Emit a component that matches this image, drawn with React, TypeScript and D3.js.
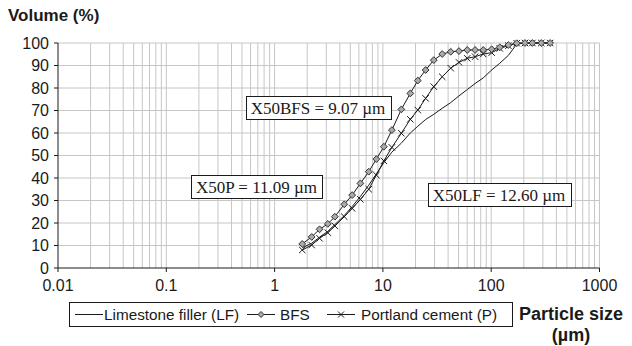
import React, { useEffect, useRef } from 'react';
import * as d3 from 'd3';

// particle sizes (µm), shared by all three curves
const particleSize = [1.8, 2.2, 2.6, 3.1, 3.6, 4.4, 5.2, 6.2, 7.4, 8.7, 10.2, 12.1, 14.8, 17.9, 21, 24.8, 29.5, 35.3, 42.3, 50.4, 60.1, 71, 84.5, 101, 120, 144, 172, 205, 240, 290, 350];

// cumulative volume (%)
const limestone = [9, 11, 13.7, 16.3, 19.3, 23.3, 27.3, 31.8, 36.8, 41.8, 46.8, 51.5, 55.5, 60, 63, 66, 68.3, 71, 73.5, 76.5, 79.3, 82, 84.5, 88, 91, 94.5, 99.5, 100, 100, 100, 100];
const bfs = [10.7, 13.8, 17.2, 19.6, 22.8, 28.3, 32.4, 37.6, 42.8, 48.4, 53.9, 61.3, 70.5, 77.6, 83.3, 88, 92.4, 95.1, 96.1, 96.4, 96.9, 96.9, 96.9, 97.2, 98.1, 99.1, 99.9, 100, 100, 100, 100];
const portland = [8, 10.2, 13.2, 15.7, 18.7, 22.8, 26.5, 30.5, 35, 41.3, 47.6, 53.6, 59.9, 66.1, 70.2, 75.4, 80.6, 85, 88.8, 91.4, 93.2, 93.9, 95.1, 95.7, 97.6, 98.8, 99.9, 100, 100, 100, 100];

const xTicks = [0.01, 0.1, 1, 10, 100, 1000];
const xTickLabels = ['0.01', '0.1', '1', '10', '100', '1000'];
const yTicks = [0, 10, 20, 30, 40, 50, 60, 70, 80, 90, 100];
const minorMultipliers = [2, 3, 4, 5, 6, 7, 8, 9];

const seriesNames = ['Limestone filler (LF)', 'BFS', 'Portland cement (P)'];
const annotationTexts = ['X50BFS = 9.07 µm', 'X50P = 11.09 µm', 'X50LF = 12.60 µm'];

const sans = 'Arial, "Liberation Sans", sans-serif';
const serif = '"Times New Roman", "Liberation Serif", serif';

const ParticleChart: React.FC = () => {
  const svgRef = useRef<SVGSVGElement | null>(null);

  useEffect(() => {
    if (!svgRef.current) return;
    const svg = d3.select(svgRef.current);
    svg.selectAll('*').remove();

    const left = 58, right = 599.5, top = 43, bottom = 268;
    const x = d3.scaleLog().domain([0.01, 1000]).range([left, right]);
    const y = d3.scaleLinear().domain([0, 100]).range([bottom, top]);

    const gridColor = '#c6c6c6';
    const ink = '#1a1a1a';

    // --- grid ---
    const grid = svg.append('g');
    const vLines: number[] = [];
    xTicks.slice(0, -1).forEach(d => minorMultipliers.forEach(m => vLines.push(d * m)));
    xTicks.slice(1).forEach(d => vLines.push(d));
    grid.selectAll('.v').data(vLines).enter().append('line')
      .attr('x1', d => x(d)).attr('x2', d => x(d))
      .attr('y1', top).attr('y2', bottom)
      .attr('stroke', gridColor).attr('stroke-width', 1);
    grid.selectAll('.h').data(yTicks.slice(1)).enter().append('line')
      .attr('x1', left).attr('x2', right)
      .attr('y1', d => y(d)).attr('y2', d => y(d))
      .attr('stroke', gridColor).attr('stroke-width', 1);

    // --- axes ---
    svg.append('line').attr('x1', left).attr('x2', left).attr('y1', top).attr('y2', bottom)
      .attr('stroke', ink).attr('stroke-width', 1);
    svg.append('line').attr('x1', left).attr('x2', right).attr('y1', bottom).attr('y2', bottom)
      .attr('stroke', ink).attr('stroke-width', 1);

    svg.selectAll('.yt').data(yTicks).enter().append('line')
      .attr('x1', left - 4).attr('x2', left).attr('y1', d => y(d)).attr('y2', d => y(d))
      .attr('stroke', ink);
    svg.selectAll('.yl').data(yTicks).enter().append('text')
      .attr('x', left - 9).attr('y', d => y(d) + 5.5).attr('text-anchor', 'end')
      .attr('font-family', sans).attr('font-size', 16).attr('fill', ink).text(d => d);

    svg.selectAll('.xt').data(xTicks).enter().append('line')
      .attr('x1', d => x(d)).attr('x2', d => x(d)).attr('y1', bottom).attr('y2', bottom + 4)
      .attr('stroke', ink);
    svg.selectAll('.xl').data(xTicks).enter().append('text')
      .attr('x', d => x(d)).attr('y', bottom + 23).attr('text-anchor', 'middle')
      .attr('font-family', sans).attr('font-size', 16).attr('fill', ink)
      .text((d, i) => xTickLabels[i]);

    svg.append('text').attr('x', 8).attr('y', 21)
      .attr('font-family', sans).attr('font-size', 17).attr('font-weight', 'bold').attr('fill', ink)
      .text('Volume (%)');

    // --- curves ---
    const line = d3.line<[number, number]>().x(d => x(d[0])).y(d => y(d[1]));
    const toPts = (vals: number[]) => particleSize.map((s, i) => [s, vals[i]] as [number, number]);

    const curves = svg.append('g');
    [limestone, portland, bfs].forEach(vals => {
      curves.append('path').datum(toPts(vals)).attr('d', line)
        .attr('fill', 'none').attr('stroke', ink).attr('stroke-width', 1);
    });

    const crossPath = (cx: number, cy: number, r: number) =>
      `M${cx - r},${cy - r}L${cx + r},${cy + r}M${cx - r},${cy + r}L${cx + r},${cy - r}`;
    const diamondPath = (cx: number, cy: number, r: number) =>
      `M${cx},${cy - r}L${cx + r},${cy}L${cx},${cy + r}L${cx - r},${cy}Z`;

    curves.selectAll('.cross').data(toPts(portland)).enter().append('path')
      .attr('d', d => crossPath(x(d[0]), y(d[1]), 3.2))
      .attr('stroke', ink).attr('stroke-width', 1).attr('fill', 'none');
    curves.selectAll('.dia').data(toPts(bfs)).enter().append('path')
      .attr('d', d => diamondPath(x(d[0]), y(d[1]), 3.4))
      .attr('stroke', '#333').attr('stroke-width', 1).attr('fill', '#aaaaaa');

    // --- X50 annotation boxes ---
    const boxes = [
      { cx: 318, cy: 108 },
      { cx: 256.5, cy: 187 },
      { cx: 499, cy: 195 }
    ];
    annotationTexts.forEach((t, i) => {
      const g = svg.append('g');
      const rect = g.append('rect').attr('fill', 'white').attr('stroke', ink).attr('stroke-width', 1);
      const txt = g.append('text').attr('x', boxes[i].cx).attr('y', boxes[i].cy + 6)
        .attr('text-anchor', 'middle').attr('font-family', serif).attr('font-size', 17)
        .attr('fill', ink).text(t);
      const bb = (txt.node() as SVGTextElement).getBBox();
      rect.attr('x', Math.round(bb.x - 5) + 0.5).attr('y', boxes[i].cy - 11.5)
        .attr('width', Math.round(bb.width + 10)).attr('height', 23);
    });

    // --- legend ---
    const lg = svg.append('g');
    lg.append('rect').attr('x', 69.5).attr('y', 302.5).attr('width', 443).attr('height', 24)
      .attr('fill', 'white').attr('stroke', ink).attr('stroke-width', 1);
    const legendY = 314.5;
    const samples = [75, 247, 327];
    const labelsX = [104, 280, 361];
    seriesNames.forEach((name, i) => {
      lg.append('line').attr('x1', samples[i]).attr('x2', samples[i] + 28)
        .attr('y1', legendY).attr('y2', legendY).attr('stroke', ink).attr('stroke-width', 1);
      if (i === 1) {
        lg.append('path').attr('d', diamondPath(samples[i] + 14, legendY, 3))
          .attr('stroke', '#333').attr('fill', '#aaaaaa');
      }
      if (i === 2) {
        lg.append('path').attr('d', crossPath(samples[i] + 14, legendY, 3))
          .attr('stroke', ink).attr('fill', 'none');
      }
      lg.append('text').attr('x', labelsX[i]).attr('y', legendY + 5.5)
        .attr('font-family', sans).attr('font-size', 15.3).attr('fill', ink).text(name);
    });

    svg.append('text').attr('x', 571).attr('y', 320).attr('text-anchor', 'middle')
      .attr('font-family', sans).attr('font-size', 18).attr('font-weight', 'bold').attr('fill', ink)
      .text('Particle size');
    svg.append('text').attr('x', 571).attr('y', 341).attr('text-anchor', 'middle')
      .attr('font-family', sans).attr('font-size', 18).attr('font-weight', 'bold').attr('fill', ink)
      .text('(µm)');
  }, []);

  return (
    <svg ref={svgRef} width={632} height={346}
      style={{ position: 'absolute', left: 0, top: 0, background: 'white' }} />
  );
};

export default function App() {
  return <ParticleChart />;
}
